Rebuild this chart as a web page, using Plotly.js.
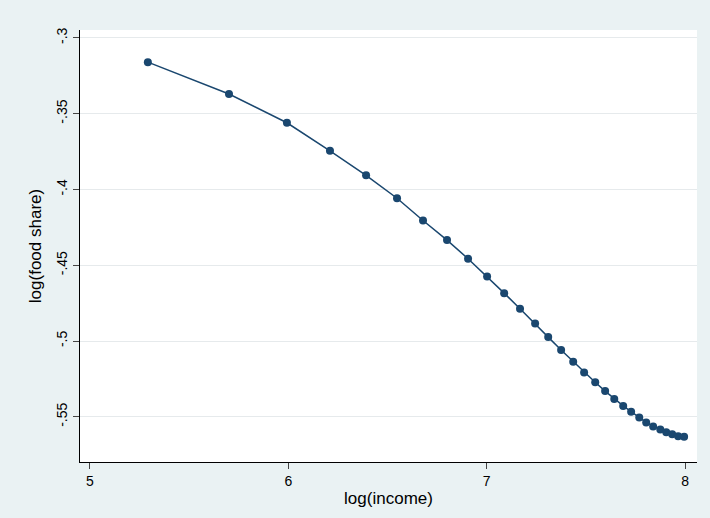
<!DOCTYPE html>
<html>
<head>
<script src="https://cdn.plot.ly/plotly-3.0.1.min.js"></script>
<style>body{margin:0}</style>
</head>
<body>
<div id="myDiv" style="width:710px;height:518px"></div>
<script>
var logIncome = [5.292, 5.701, 5.993, 6.210, 6.392, 6.548, 6.679, 6.800, 6.906, 7.002,
  7.088, 7.168, 7.244, 7.310, 7.375, 7.436, 7.491, 7.547, 7.597, 7.643,
  7.688, 7.728, 7.769, 7.804, 7.839, 7.875, 7.905, 7.935, 7.965, 7.995]
var logFoodShare = [-0.316, -0.337, -0.356, -0.3745, -0.3907, -0.4058, -0.4205, -0.4334, -0.4457, -0.4574,
  -0.4684, -0.4787, -0.4884, -0.4974, -0.5059, -0.5136, -0.5208, -0.5272, -0.5330, -0.5382,
  -0.5428, -0.5466, -0.5505, -0.5537, -0.5563, -0.5583, -0.5602, -0.5615, -0.5628, -0.5632]

var trace1 = {
  x: logIncome,
  y: logFoodShare,
  type: 'scatter',
  mode: 'lines+markers',
  line: {color: '#1a476f', width: 1.5},
  marker: {color: '#1a476f', size: 8}
}

var layout = {
  width: 710, height: 518,
  paper_bgcolor: '#eaf2f3',
  plot_bgcolor: '#ffffff',
  margin: {l: 80, r: 13, t: 30, b: 56},
  font: {family: 'Liberation Sans, Arial', size: 14, color: '#000'},
  showlegend: false,
  xaxis: {
    range: [4.95, 8.06], tickvals: [5, 6, 7, 8], ticks: 'outside', ticklen: 6,
    showline: true, linecolor: '#000', showgrid: false, zeroline: false,
    title: {text: 'log(income)', standoff: 4}
  },
  yaxis: {
    range: [-0.5798, -0.2948], tickvals: [-0.3, -0.35, -0.4, -0.45, -0.5, -0.55],
    ticktext: ['-.3', '-.35', '-.4', '-.45', '-.5', '-.55'],
    tickangle: -90, ticks: 'outside', ticklen: 6,
    showline: true, linecolor: '#000', showgrid: true, gridcolor: '#e6eaec', zeroline: false,
    title: {text: 'log(food share)', standoff: 8}
  }
}

Plotly.newPlot('myDiv', [trace1], layout, {displayModeBar: false})
</script>
</body>
</html>
